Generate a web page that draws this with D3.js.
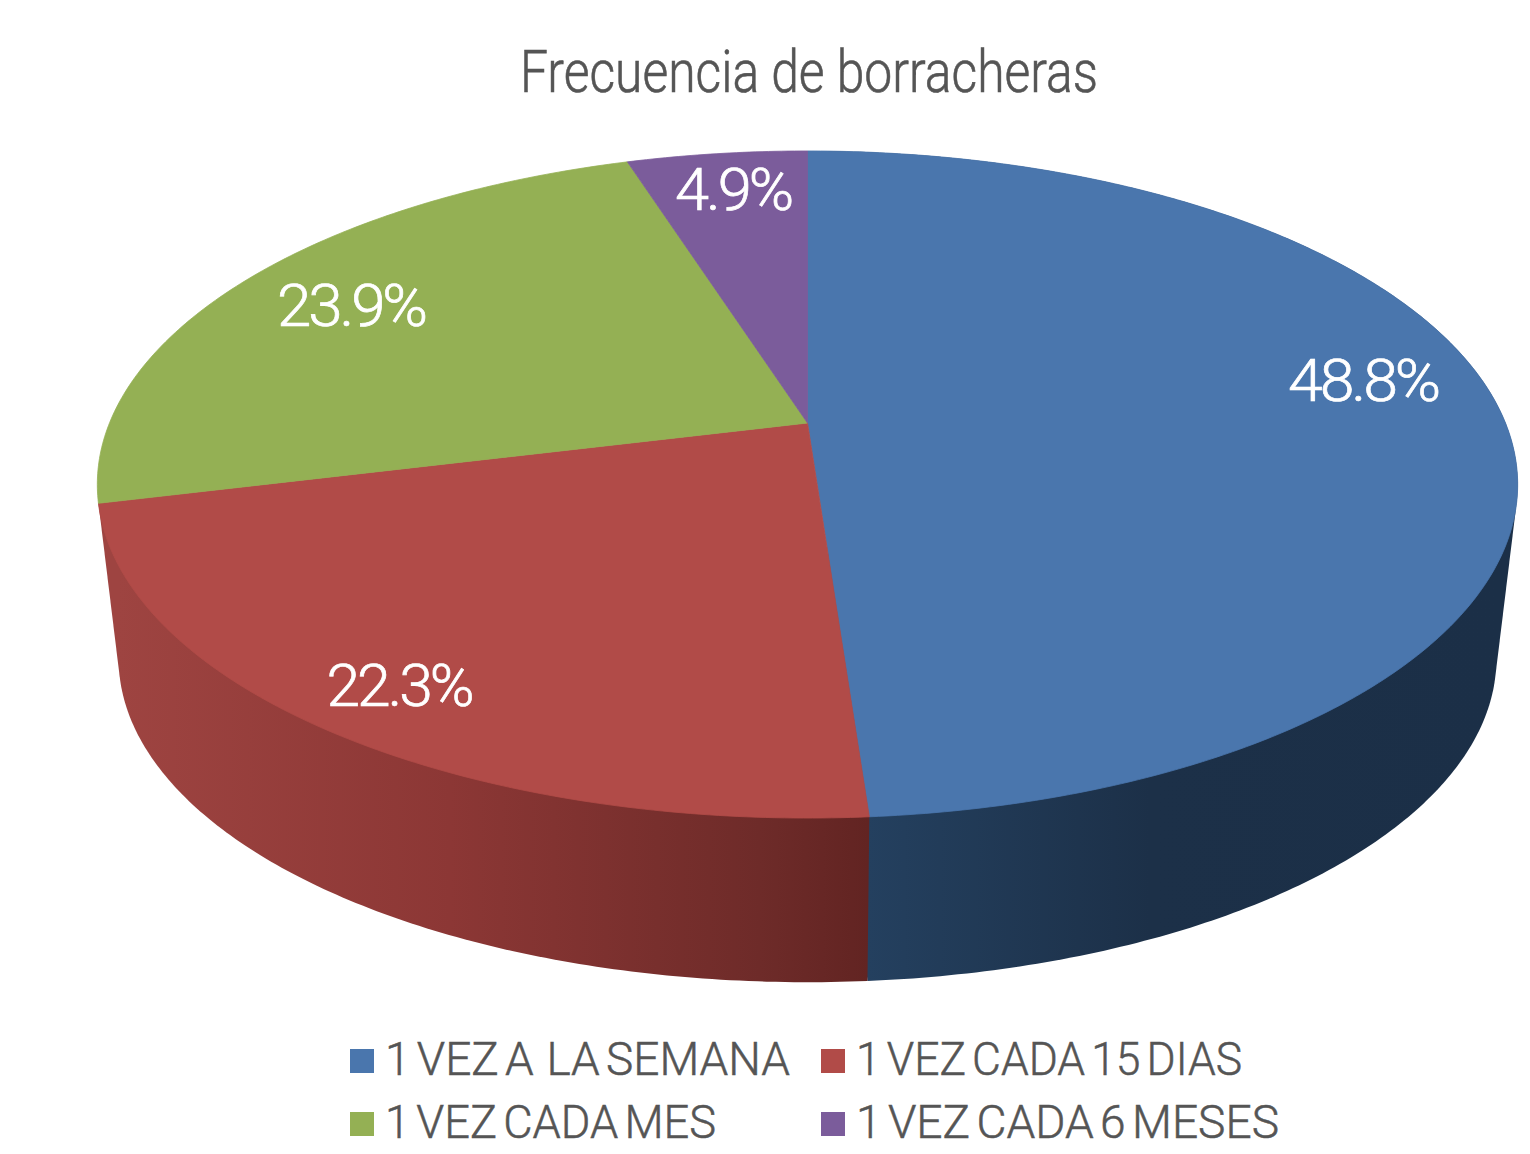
<!DOCTYPE html>
<html>
<head>
<meta charset="utf-8">
<script src="https://cdnjs.cloudflare.com/ajax/libs/d3/7.8.5/d3.min.js"></script>
<style>
  html, body { margin: 0; background: #fff; }
  text { font-family: Roboto, sans-serif; font-weight: 300; white-space: pre; }
</style>
</head>
<body>
<svg id="chart" width="1530" height="1154"></svg>
<script>
const title = "Frecuencia de borracheras";
const categories = ["1 VEZ A  LA SEMANA", "1 VEZ CADA 15 DIAS", "1 VEZ CADA MES", "1 VEZ CADA 6 MESES"];
const values = [48.8, 22.3, 23.9, 4.9];
const valueLabels = ["48.8%", "22.3%", "23.9%", "4.9%"];

const topColors = ["#4a76ad", "#b14b48", "#94b054", "#7b5c9b"];
const sideStops = [
  [[868, "#24405f"], [1150, "#1c3048"], [1500, "#1b2f47"]],
  [[118, "#9e4441"], [450, "#8c3735"], [760, "#6e2b29"], [868, "#622422"]],
  null,
  null
];

// label centres and fitted text widths
const labelPos = [[1363, 381], [399, 686], [351, 306], [733, 190]];
const labelWidth = [150, 145, 148, 116];
const legendWidth = [405, 386, 331, 423];

const svg = d3.select("#chart");
const defs = svg.append("defs");

// perspective projection of the pie disc: apex is not the ellipse centre
const persp = 0.1844;
function project(angle, r, cx, cy, scale) {
  const u = r * Math.sin(angle), v = r * Math.cos(angle), w = 1 + persp * v;
  return [cx + scale * 698 * u / w, cy - scale * 322.2 * v / w];
}
const topFace = (a, r = 1) => project(a, r, 807.5, 423, 1);
const lowFace = (a, r = 1) => project(a, r, 807.5, 599, 0.97);

const slices = d3.pie().sort(null).value(d => d)(values);
const line = d3.line().curve(d3.curveLinearClosed);

function arcAngles(s) {
  const n = Math.max(8, Math.ceil((s.endAngle - s.startAngle) * 90));
  return d3.range(n + 1).map(i => s.startAngle + (s.endAngle - s.startAngle) * i / n);
}

// sides first, blue then red so the seam is clean
const sides = svg.append("g");
slices.forEach((s, i) => {
  if (!sideStops[i]) return;
  const x0 = d3.min(sideStops[i], d => d[0]), x1 = d3.max(sideStops[i], d => d[0]);
  const grad = defs.append("linearGradient")
    .attr("id", "side" + i)
    .attr("gradientUnits", "userSpaceOnUse")
    .attr("x1", x0).attr("x2", x1)
    .attr("y1", 0).attr("y2", 0);
  sideStops[i].forEach(st => {
    grad.append("stop").attr("offset", (st[0] - x0) / (x1 - x0)).attr("stop-color", st[1]);
  });
  const angles = arcAngles(s);
  const hull = d3.polygonHull(angles.map(a => topFace(a)).concat(angles.map(a => lowFace(a))));
  sides.append("path")
    .attr("d", line(hull))
    .attr("fill", "url(#side" + i + ")");
});

// top face
const faces = svg.append("g");
slices.forEach((s, i) => {
  const pts = [[807.5, 423]].concat(arcAngles(s).map(a => topFace(a)));
  faces.append("path")
    .attr("d", line(pts))
    .attr("fill", topColors[i])
    .attr("stroke", topColors[i])
    .attr("stroke-width", 0.8);
});

// value labels
svg.append("g").selectAll("text")
  .data(valueLabels)
  .join("text")
  .attr("x", (d, i) => labelPos[i][0] - labelWidth[i] / 2)
  .attr("y", (d, i) => labelPos[i][1] + 20)
  .attr("font-size", 60)
  .attr("fill", "#fff")
  .attr("stroke", "#fff")
  .attr("stroke-width", 0.7)
  .attr("letter-spacing", -3)
  .attr("textLength", (d, i) => labelWidth[i])
  .attr("lengthAdjust", "spacingAndGlyphs")
  .text(d => d);

// title
svg.append("text")
  .attr("x", 520)
  .attr("y", 92)
  .attr("font-size", 60)
  .attr("fill", "#555")
  .attr("stroke", "#555")
  .attr("stroke-width", 0.6)
  .attr("textLength", 578)
  .attr("lengthAdjust", "spacingAndGlyphs")
  .text(title);

// legend, two rows of two
const legendX = d3.scaleOrdinal().domain([0, 1]).range([350, 821]);
const legendY = d3.scaleOrdinal().domain([0, 1]).range([1075, 1138]);
const legend = svg.append("g").selectAll("g")
  .data(categories)
  .join("g")
  .attr("transform", (d, i) => "translate(" + legendX(i % 2) + "," + legendY(Math.floor(i / 2)) + ")");
legend.append("rect")
  .attr("y", -26).attr("width", 24).attr("height", 24)
  .attr("fill", (d, i) => topColors[i]);
legend.append("text")
  .attr("x", 35)
  .attr("font-size", 47)
  .attr("fill", "#555")
  .attr("stroke", "#555")
  .attr("stroke-width", 0.5)
  .attr("word-spacing", -5)
  .attr("textLength", (d, i) => legendWidth[i])
  .attr("lengthAdjust", "spacingAndGlyphs")
  .text(d => d);
</script>
</body>
</html>
